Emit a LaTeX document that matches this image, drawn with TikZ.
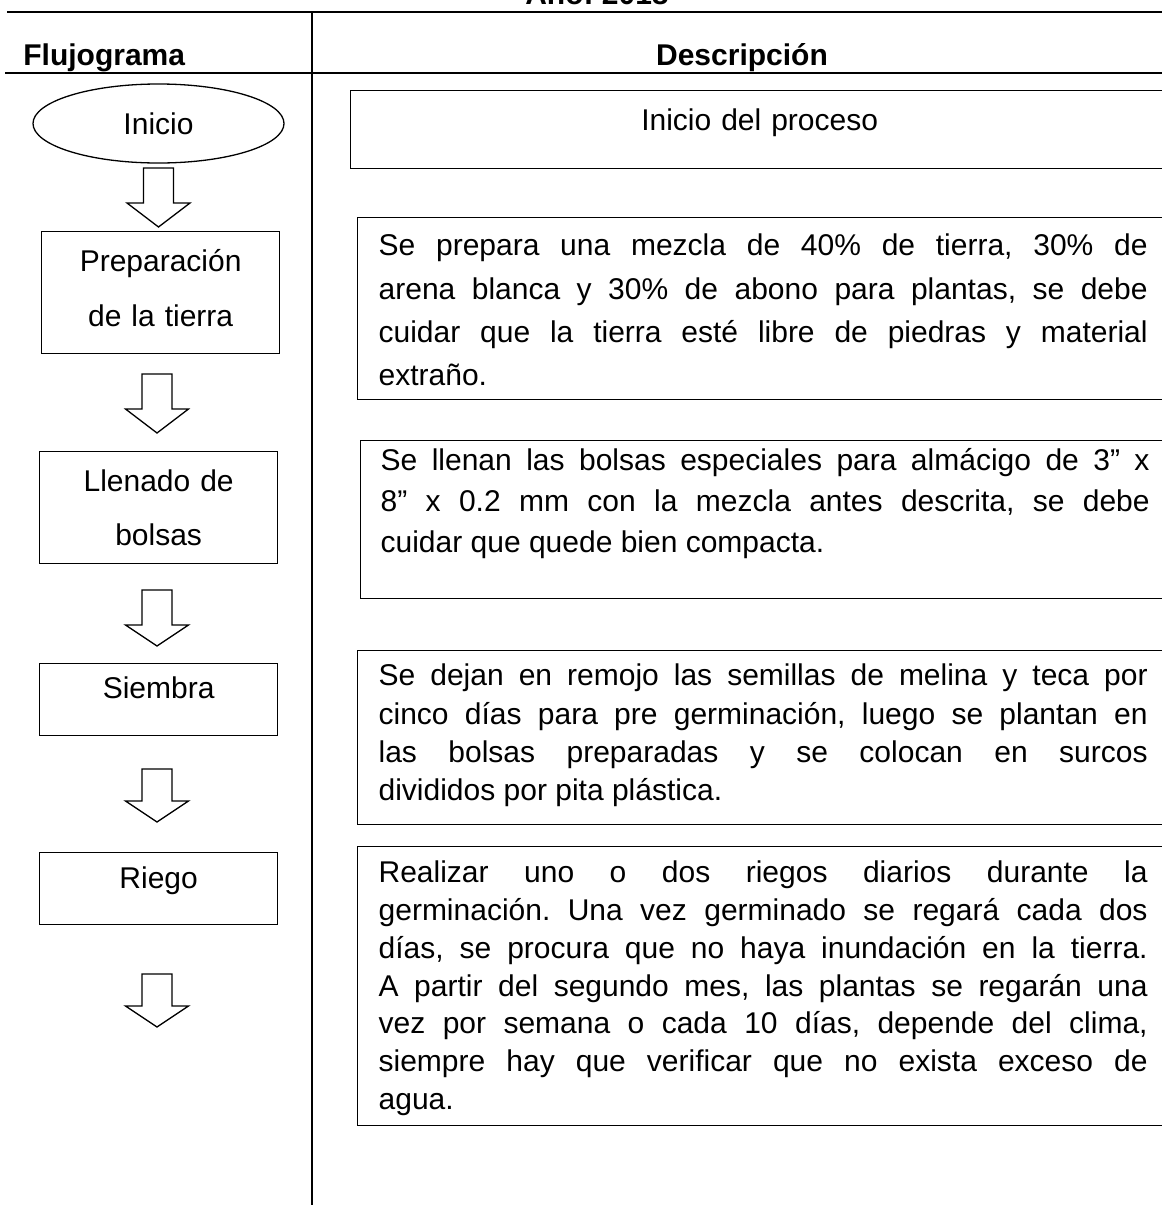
\documentclass[tikz,border=0pt]{standalone}
\usepackage{fontspec}
\setmainfont{Liberation Sans}
\usetikzlibrary{calc}
\usetikzlibrary{positioning}
\usetikzlibrary{shapes.geometric}
\hyphenpenalty=10000
\exhyphenpenalty=10000
\tolerance=9999
\frenchspacing

\begin{document}
\begin{tikzpicture}[x=0.5pt, y=-0.5pt, font=\fontsize{15}{18}\selectfont,
 linea/.style={line width=0.85pt},
 titulo/.style={inner sep=0pt, font=\fontsize{15}{18}\selectfont\bfseries},
 paso/.style={rectangle, draw, line width=0.65pt, anchor=north west, inner xsep=0pt, inner ysep=0pt, text width=119pt, align=center},
 desc/.style={rectangle, draw, line width=0.65pt, anchor=north west, inner xsep=10.5pt, inner ysep=0pt, text width=384.5pt, align=justify},
 flecha/.style={draw, line width=0.65pt, line join=miter}]
 \useasboundingbox (0,0) rectangle (1162,1205);
 \fill [white] (0,0) rectangle (1162,1205);

 % encabezado de la tabla
 \node [titulo, anchor=base] (anio) at (597,4) {Año: 2018};
 \draw [linea] (7,12) -- (1175,12);
 \node [titulo, anchor=base west] (flu) at (23,65) {Flujograma};
 \node [titulo, anchor=base] (des) at (742,65) {Descripción};
 \draw [linea] (5,73) -- (1175,73);
 \draw [linea] (312,12) -- (312,1210);

 % flujograma
 \node [ellipse, draw, line width=0.65pt, minimum width=125.5pt, minimum height=39.5pt, inner sep=0pt] (ini) at (158.5,123.5) {Inicio};
 \node [paso, text height=20pt, text depth=41pt, font=\fontsize{15}{27.5}\selectfont] (prep) at (41,231) {Preparación\\de la tierra};
 \node [paso, text height=20pt, text depth=36pt, font=\fontsize{15}{27}\selectfont] (llen) at (39,451) {Llenado de\\bolsas};
 \node [paso, text height=17.5pt, text depth=18.5pt] (siem) at (39,663) {Siembra};
 \node [paso, text height=18pt, text depth=18pt] (rieg) at (39,852) {Riego};

 \coordinate (f1) at (158.5,168);
 \coordinate (f2) at (157,374);
 \coordinate (f3) at (157,590);
 \coordinate (f4) at (157,769);
 \coordinate (f5) at (157,974);
 \draw [flecha] ($(f1)+(-15,0)$) -- ++(0,35) -- ++(-16.5,0) -- ++(31.5,24) -- ++(31.5,-24) -- ++(-16.5,0) -- ++(0,-35) -- cycle;
 \draw [flecha] ($(f2)+(-15,0)$) -- ++(0,35) -- ++(-16.5,0) -- ++(31.5,24) -- ++(31.5,-24) -- ++(-16.5,0) -- ++(0,-35) -- cycle;
 \draw [flecha] ($(f3)+(-15,0)$) -- ++(0,35) -- ++(-16.5,0) -- ++(31.5,21) -- ++(31.5,-21) -- ++(-16.5,0) -- ++(0,-35) -- cycle;
 \draw [flecha] ($(f4)+(-15,0)$) -- ++(0,32) -- ++(-16.5,0) -- ++(31.5,21) -- ++(31.5,-21) -- ++(-16.5,0) -- ++(0,-32) -- cycle;
 \draw [flecha] ($(f5)+(-15,0)$) -- ++(0,32) -- ++(-16.5,0) -- ++(31.5,21) -- ++(31.5,-21) -- ++(-16.5,0) -- ++(0,-32) -- cycle;

 % descripcion
 \node [desc, align=center, text width=388pt, text height=20pt, text depth=19pt] (dini) at (350,90) {Inicio del proceso};
 \node [desc, text height=19pt, text depth=72pt, font=\fontsize{15}{21.7}\selectfont] (dprep) at (357,217) {Se prepara una mezcla de 40\% de tierra, 30\% de\linebreak arena blanca y 30\% de abono para plantas, se debe\linebreak cuidar que la tierra esté libre de piedras y material\linebreak extraño.};
 \node [desc, inner xsep=10pt, text height=15pt, text depth=64pt, font=\fontsize{15}{20.5}\selectfont] (dllen) at (360,440) {Se llenan las bolsas especiales para almácigo de 3” x\linebreak 8” x 0.2 mm con la mezcla antes descrita, se debe\linebreak cuidar que quede bien compacta.};
 \node [desc, text height=17.5pt, text depth=69.5pt, font=\fontsize{15}{19.2}\selectfont] (dsiem) at (357,650) {Se dejan en remojo las semillas de melina y teca por\linebreak cinco días para pre germinación, luego se plantan en\linebreak las bolsas preparadas y se colocan en surcos\linebreak divididos por pita plástica.};
 \node [desc, text height=18pt, text depth=121.5pt, font=\fontsize{15}{18.9}\selectfont] (drieg) at (357,846) {Realizar uno o dos riegos diarios durante la\linebreak germinación. Una vez germinado se regará cada dos\linebreak días, se procura que no haya inundación en la tierra.\linebreak A partir del segundo mes, las plantas se regarán una\linebreak vez por semana o cada 10 días, depende del clima,\linebreak siempre hay que verificar que no exista exceso de\linebreak agua.};
\end{tikzpicture}
\end{document}
